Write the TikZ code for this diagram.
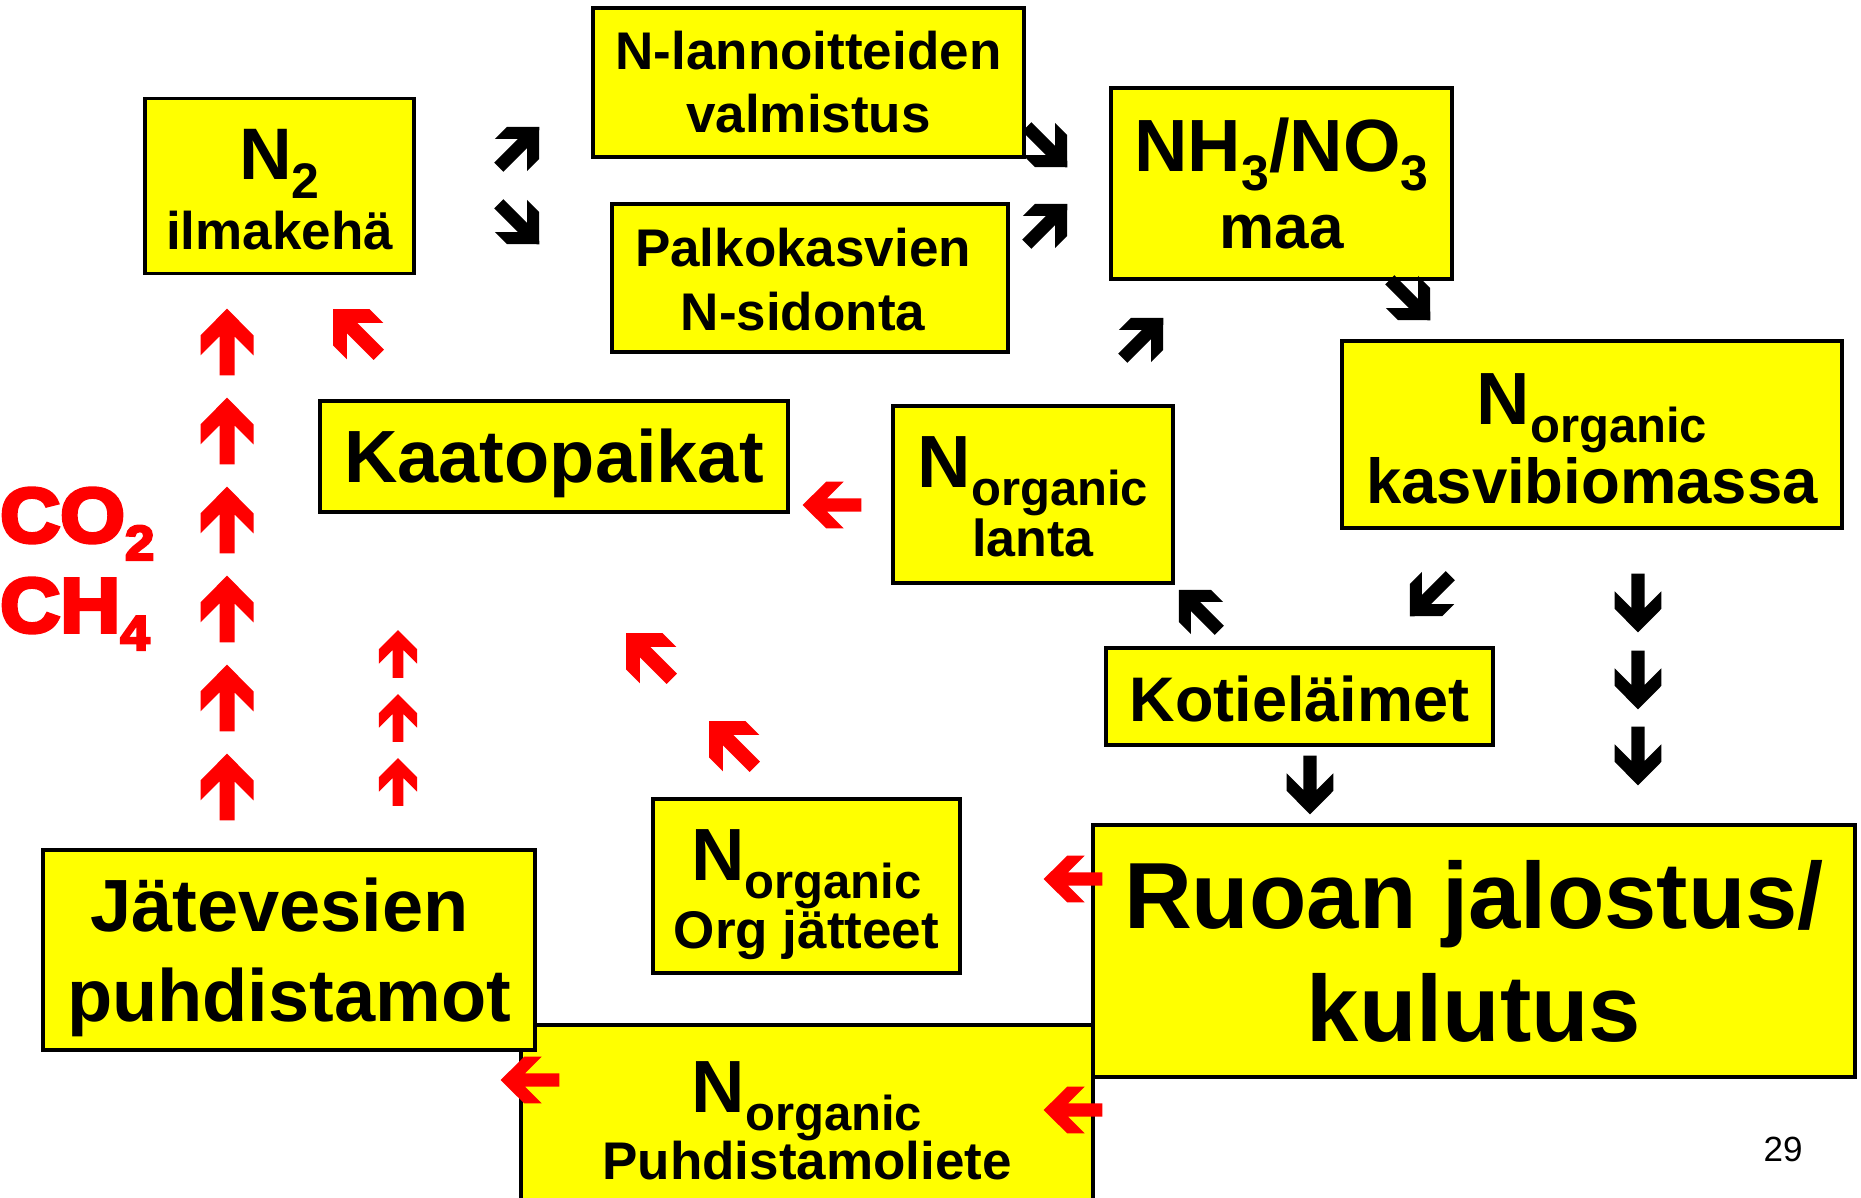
\documentclass[tikz,border=0pt]{standalone}
\usepackage{fontspec}
\setmainfont{Liberation Sans}
\newfontfamily\heavyfont[FakeBold=5,FakeStretch=1.08]{Liberation Sans}
\newcommand\fsz[2]{\fontsize{#1pt}{#2pt}\selectfont}
\newcommand\Norg{{\fsz{74}{74}N\raisebox{-18pt}{\fsz{49}{49}organic}}}
% text block: #1 = extra kern at top (positive moves text down by half), #2 = rows separated by \cr
\newcommand\tx[2]{\vbox{\kern#1\halign{\hfil##\hfil\cr#2\crcr}}}
\newcommand\barrow[4]{\fill[#4,shift={(#1)},rotate=#2,scale=#3] (0,33.3)--(26.5,6.7)--(26.5,-13.3)--(7.5,5.7)--(7.5,-33.3)--(-7.5,-33.3)--(-7.5,5.7)--(-26.5,-13.3)--(-26.5,6.7)--cycle;}
\lineskiplimit=-1000pt
\definecolor{boxyellow}{RGB}{255,255,0}
\definecolor{pured}{RGB}{255,0,0}
\tikzset{box/.style={draw=black, line width=3.5pt, fill=boxyellow, inner sep=0pt}}
\begin{document}
\begin{tikzpicture}[x=1pt,y=1pt]
\useasboundingbox (0,0) rectangle (1861,-1197);
\clip (0,0) rectangle (1861,-1197);
% boxes
\node[box, minimum width=269pt, minimum height=175pt, font=\bfseries\fsz{53}{70}] (n2) at (279.5,-186) {\tx{8pt}{{\fsz{73}{70}N\raisebox{-19pt}{\fsz{50}{50}2}}\cr ilmakehä}};
\node[box, minimum width=431pt, minimum height=149pt, font=\bfseries\fsz{53}{63}] (nlan) at (808.5,-82.5) {\tx{0pt}{N-lannoitteiden\cr valmistus}};
\node[box, minimum width=396pt, minimum height=148pt, font=\bfseries\fsz{53}{64}] (palko) at (810,-278) {\kern-14pt\tx{4pt}{Palkokasvien\cr N-sidonta}};
\node[box, minimum width=341pt, minimum height=191pt, font=\bfseries\fsz{62}{77}] (nh3) at (1281.5,-183.5) {\tx{0pt}{{\fsz{74}{77}NH\raisebox{-19pt}{\fsz{50}{50}3}/NO\raisebox{-19pt}{\fsz{50}{50}3}}\cr maa}};
\node[box, minimum width=500pt, minimum height=187pt, font=\bfseries\fsz{63.5}{79}] (kasvi) at (1592,-434.5) {\tx{8pt}{\Norg\cr kasvibiomassa}};
\node[box, minimum width=468pt, minimum height=111pt, font=\bfseries\fsz{74}{89}] (kaato) at (554,-456.5) {\tx{14pt}{Kaatopaikat}};
\node[box, minimum width=280pt, minimum height=177pt, font=\bfseries\fsz{52}{69}] (lanta) at (1033,-494.5) {\tx{5pt}{\Norg\cr lanta}};
\node[box, minimum width=387pt, minimum height=97pt, font=\bfseries\fsz{63}{75}] (koti) at (1299.5,-696.5) {\tx{5pt}{Kotieläimet}};
\node[box, minimum width=307pt, minimum height=174pt, font=\bfseries\fsz{53}{68}] (orgj) at (806.5,-886) {\tx{18pt}{\Norg\cr Org jätteet}};
\node[box, minimum width=572pt, minimum height=192pt, font=\bfseries\fsz{53}{67}] (puhd) at (807,-1121) {\tx{0pt}{\Norg\cr Puhdistamoliete}};
\node[box, minimum width=762pt, minimum height=252pt, font=\bfseries\fsz{94}{113}] (ruoan) at (1474,-951) {\tx{0pt}{Ruoan jalostus/\cr kulutus}};
\node[box, minimum width=492pt, minimum height=200pt, font=\bfseries\fsz{74}{90}] (jate) at (289,-950) {\tx{14pt}{\kern-19pt Jätevesien\cr puhdistamot}};
% gases
\node[anchor=base west, text=pured, inner sep=0pt, font=\heavyfont\bfseries\fsz{77}{77}] (co2) at (0,-542) {CO\raisebox{-18pt}{\fsz{49}{49}2}};
\node[anchor=base west, text=pured, inner sep=0pt, font=\heavyfont\bfseries\fsz{77}{77}] (ch4) at (0,-632) {CH\raisebox{-18pt}{\fsz{49}{49}4}};
\node[anchor=base, inner sep=0pt, font=\fsz{35}{35}] (pg) at (1783,-1161) {29};
% black arrows
\barrow{519,-147}{-45}{0.86}{black}
\barrow{519,-224}{-135}{0.86}{black}
\barrow{1047,-147}{-135}{0.86}{black}
\barrow{1047,-224}{-45}{0.86}{black}
\barrow{1143,-338}{-45}{0.86}{black}
\barrow{1410,-300}{-135}{0.86}{black}
\barrow{1199,-610}{45}{0.86}{black}
\barrow{1430,-596}{135}{0.86}{black}
\barrow{1638,-603}{180}{0.88}{black}
\barrow{1638,-680}{180}{0.88}{black}
\barrow{1638,-756}{180}{0.88}{black}
\barrow{1310,-785}{180}{0.88}{black}
% red arrows
\foreach \yy in {342,431,520,609,698,787} {\barrow{227,-\yy}{0}{1}{pured}}
\foreach \yy in {654,718,782} {\barrow{398,-\yy}{0}{0.72}{pured}}
\barrow{356,-332}{45}{0.97}{pured}
\barrow{649,-656}{45}{0.97}{pured}
\barrow{732,-744}{45}{0.97}{pured}
\barrow{832,-505}{90}{0.88}{pured}
\barrow{1073,-879}{90}{0.88}{pured}
\barrow{1073,-1110}{90}{0.88}{pured}
\barrow{530,-1080}{90}{0.88}{pured}
\end{tikzpicture}
\end{document}
